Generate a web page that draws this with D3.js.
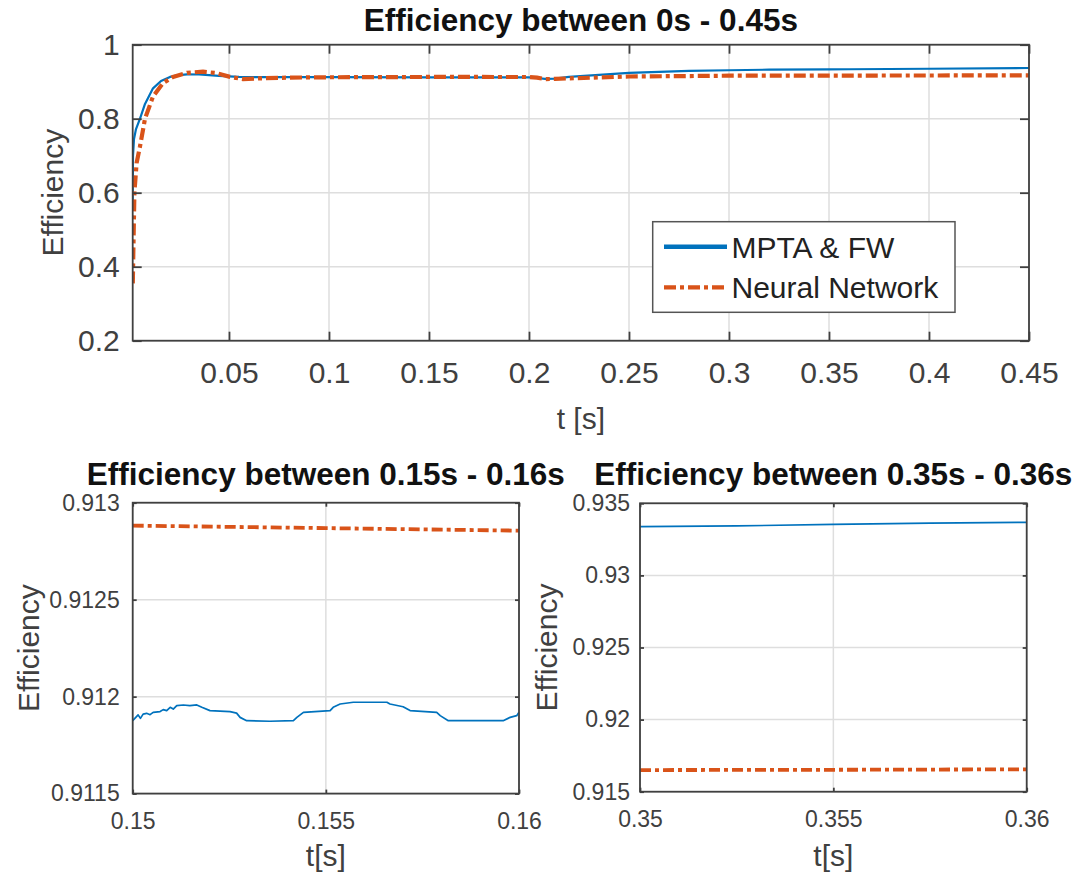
<!DOCTYPE html>
<html><head><meta charset="utf-8">
<script src="https://cdn.jsdelivr.net/npm/d3@7"></script>
<style>
html,body{margin:0;padding:0;background:#fff;}
svg{display:block;}
text{font-family:"Liberation Sans",Arial,Helvetica,sans-serif;}
</style></head>
<body><svg id="c" width="1077" height="875"></svg>
<script>
// ---------------- data ----------------
const seriesNames = ["MPTA & FW", "Neural Network"];

// Top panel (0s - 0.45s)
const topXTicks = [0.05,0.1,0.15,0.2,0.25,0.3,0.35,0.4,0.45];
const topXTickLabels = ["0.05","0.1","0.15","0.2","0.25","0.3","0.35","0.4","0.45"];
const topYTicks = [0.2,0.4,0.6,0.8,1];
const topYTickLabels = ["0.2","0.4","0.6","0.8","1"];
const topMptaT = [0.00185,0.0020,0.0025,0.0035,0.0055,0.008,0.012,0.016,0.0205,0.025,0.029,0.035,0.040,0.045,0.050,0.055,0.060,0.080,0.100,0.150,0.200,0.204,0.208,0.213,0.220,0.250,0.280,0.300,0.320,0.350,0.360,0.400,0.450];
const topMptaV = [0.58,0.70,0.745,0.772,0.80,0.84,0.882,0.902,0.913,0.918,0.920,0.9195,0.918,0.916,0.9145,0.913,0.9125,0.9124,0.9122,0.9119,0.9118,0.910,0.9075,0.9085,0.913,0.924,0.929,0.931,0.9325,0.9333,0.9337,0.935,0.937];
const topNnT = [0.0019,0.0022,0.0027,0.0038,0.0055,0.008,0.012,0.017,0.022,0.029,0.037,0.044,0.0505,0.057,0.065,0.080,0.100,0.150,0.160,0.200,0.204,0.208,0.213,0.220,0.250,0.300,0.350,0.360,0.450];
const topNnV = [0.355,0.45,0.60,0.68,0.725,0.80,0.86,0.896,0.913,0.924,0.927,0.923,0.913,0.907,0.909,0.911,0.912,0.9128,0.91286,0.9127,0.911,0.907,0.9075,0.909,0.914,0.9162,0.9166,0.91663,0.9170];

// Bottom-left panel (0.15s - 0.16s)
const blXTicks = [0.15,0.155,0.16];
const blXTickLabels = ["0.15","0.155","0.16"];
const blYTicks = [0.9115,0.912,0.9125,0.913];
const blYTickLabels = ["0.9115","0.912","0.9125","0.913"];
const blMptaT = [0.15000,0.15008,0.15014,0.15020,0.15027,0.15036,0.15045,0.15053,0.15071,0.15079,0.15088,0.15097,0.15105,0.15114,0.15131,0.15148,0.15166,0.15179,0.15200,0.15252,0.15269,0.15278,0.15295,0.15355,0.15416,0.15425,0.15442,0.15511,0.15519,0.15537,0.15571,0.15658,0.15666,0.15700,0.15718,0.15787,0.15796,0.15817,0.15959,0.15977,0.15994,0.16000];
const blMptaV = [0.911876,0.911893,0.911906,0.911888,0.911910,0.911914,0.911907,0.911919,0.911923,0.911933,0.911928,0.911945,0.911936,0.911954,0.911957,0.911954,0.911957,0.911945,0.911928,0.911923,0.911915,0.911893,0.911876,0.911873,0.911876,0.911893,0.911919,0.911928,0.911945,0.911962,0.911971,0.911971,0.911962,0.911948,0.911928,0.911919,0.911902,0.911876,0.911876,0.911893,0.911902,0.911919];
const blNnT = [0.150,0.155,0.160];
const blNnV = [0.912882,0.912869,0.912856];

// Bottom-right panel (0.35s - 0.36s)
const brXTicks = [0.35,0.355,0.36];
const brXTickLabels = ["0.35","0.355","0.36"];
const brYTicks = [0.915,0.92,0.925,0.93,0.935];
const brYTickLabels = ["0.915","0.92","0.925","0.93","0.935"];
const brMptaT = [0.350,0.3525,0.355,0.3575,0.360];
const brMptaV = [0.93338,0.93343,0.93354,0.93362,0.93368];
const brNnT = [0.350,0.355,0.360];
const brNnV = [0.91650,0.91652,0.91655];

// ---------------- drawing ----------------
const svg = d3.select("#c");
const BLUE = "#0072BD", ORANGE = "#D95319", AX = "#404040", GRID = "#dedede";

function zip(t, v){ return t.map((d,i)=>[d, v[i]]); }

function panel(o){
  const x = d3.scaleLinear().domain(o.xDomain).range([o.left, o.right]);
  const y = d3.scaleLinear().domain(o.yDomain).range([o.bottom, o.top]);
  const g = svg.append("g");
  // grid
  g.append("g").selectAll("line").data(o.xTicks).join("line")
    .attr("x1", d=>x(d)).attr("x2", d=>x(d)).attr("y1", o.top).attr("y2", o.bottom)
    .attr("stroke", GRID).attr("stroke-width", 1.5);
  g.append("g").selectAll("line").data(o.yTicks).join("line")
    .attr("y1", d=>y(d)).attr("y2", d=>y(d)).attr("x1", o.left).attr("x2", o.right)
    .attr("stroke", GRID).attr("stroke-width", 1.5);
  // clip
  const cid = "clip" + Math.round(o.left) + "_" + Math.round(o.top);
  g.append("clipPath").attr("id", cid).append("rect")
    .attr("x", o.left).attr("y", o.top - 3).attr("width", o.right - o.left).attr("height", o.bottom - o.top + 6);
  const line = d3.line().x(d=>x(d[0])).y(d=>y(d[1]));
  const lg = g.append("g").attr("clip-path", `url(#${cid})`);
  lg.append("path").datum(zip(o.blueT, o.blueV)).attr("d", line)
    .attr("fill","none").attr("stroke", BLUE).attr("stroke-width", o.blueW).attr("stroke-linejoin","round");
  lg.append("path").datum(zip(o.orT, o.orV)).attr("d", line)
    .attr("fill","none").attr("stroke", ORANGE).attr("stroke-width", o.orW)
    .attr("stroke-dasharray", o.dash);
  // axes
  const fs = o.tickFont;
  const xa = g.append("g").attr("transform", `translate(0,${o.bottom})`)
    .call(d3.axisBottom(x).tickValues(o.xTicks).tickFormat((d,i)=>o.xLabels[i]).tickSize(-o.tickLen).tickPadding(o.xPad));
  const xt = g.append("g").attr("transform", `translate(0,${o.top})`)
    .call(d3.axisTop(x).tickValues(o.xTicks).tickFormat("").tickSize(-o.tickLen));
  const ya = g.append("g").attr("transform", `translate(${o.left},0)`)
    .call(d3.axisLeft(y).tickValues(o.yTicks).tickFormat((d,i)=>o.yLabels[i]).tickSize(-o.tickLen).tickPadding(o.yPad));
  const yr = g.append("g").attr("transform", `translate(${o.right},0)`)
    .call(d3.axisRight(y).tickValues(o.yTicks).tickFormat("").tickSize(-o.tickLen));
  [xa, xt, ya, yr].forEach(a=>{
    a.select(".domain").remove();
    a.selectAll(".tick line").attr("stroke", AX).attr("stroke-width", 1.8);
    a.selectAll("text").attr("fill", AX).style("font-size", fs + "px")
      .style("font-family", '"Liberation Sans",Arial,sans-serif');
  });
  // box
  g.append("rect").attr("x", o.left).attr("y", o.top).attr("width", o.right - o.left).attr("height", o.bottom - o.top)
    .attr("fill","none").attr("stroke", AX).attr("stroke-width", 1.8);
  // title
  g.append("text").attr("x", (o.left + o.right)/2).attr("y", o.titleY).attr("text-anchor","middle")
    .attr("fill","#111").style("font-size", o.titleFont + "px").style("font-weight","bold").text(o.title);
  // labels
  g.append("text").attr("x", (o.left + o.right)/2).attr("y", o.xLabelY).attr("text-anchor","middle")
    .attr("fill", AX).style("font-size", o.labelFont + "px").text(o.xLabel);
  g.append("text").attr("transform", `translate(${o.yLabelX},${(o.top + o.bottom)/2}) rotate(-90)`)
    .attr("text-anchor","middle").attr("fill", AX).style("font-size", o.labelFont + "px").text(o.yLabel);
  return {x, y, g};
}

panel({
  left:132.7, right:1029, top:44.7, bottom:340.7,
  xDomain:[0.00185,0.45], yDomain:[0.2,1],
  xTicks:topXTicks, xLabels:topXTickLabels, yTicks:topYTicks, yLabels:topYTickLabels,
  tickLen:9, tickFont:30, xPad:21, yPad:13,
  blueT:topMptaT, blueV:topMptaV, blueW:2.2, orT:topNnT, orV:topNnV, orW:4.2, dash:"12,4,4,4",
  title:"Efficiency between 0s - 0.45s", titleY:31, titleFont:31.5,
  xLabel:"t [s]", xLabelY:429, yLabel:"Efficiency", yLabelX:63, labelFont:30
});

panel({
  left:132.7, right:519, top:502.7, bottom:793.6,
  xDomain:[0.15,0.16], yDomain:[0.9115,0.913],
  xTicks:blXTicks, xLabels:blXTickLabels, yTicks:blYTicks, yLabels:blYTickLabels,
  tickLen:4, tickFont:23, xPad:19, yPad:13,
  blueT:blMptaT, blueV:blMptaV, blueW:1.7, orT:blNnT, orV:blNnV, orW:3.8, dash:"11,4,4,4",
  title:"Efficiency between 0.15s - 0.16s", titleY:485, titleFont:31.5,
  xLabel:"t[s]", xLabelY:866, yLabel:"Efficiency", yLabelX:39, labelFont:30
});

panel({
  left:640, right:1026.7, top:503.3, bottom:791.7,
  xDomain:[0.35,0.36], yDomain:[0.915,0.935],
  xTicks:brXTicks, xLabels:brXTickLabels, yTicks:brYTicks, yLabels:brYTickLabels,
  tickLen:4, tickFont:23, xPad:19, yPad:10,
  blueT:brMptaT, blueV:brMptaV, blueW:1.7, orT:brNnT, orV:brNnV, orW:3.8, dash:"11,4,4,4",
  title:"Efficiency between 0.35s - 0.36s", titleY:485, titleFont:31.5,
  xLabel:"t[s]", xLabelY:866, yLabel:"Efficiency", yLabelX:557, labelFont:30
});

// legend (top panel)
const lgd = svg.append("g");
lgd.append("rect").attr("x",652.7).attr("y",221.7).attr("width",302.3).attr("height",90.6)
  .attr("fill","#fff").attr("stroke","#555").attr("stroke-width",1.5);
const legendColors = [BLUE, ORANGE];
const legendDash = [null, "12,4,4,4"];
seriesNames.forEach((name, i)=>{
  const yy = 246.7 + i*40.6;
  lgd.append("line").attr("x1",664).attr("x2",727).attr("y1",yy).attr("y2",yy)
    .attr("stroke", legendColors[i]).attr("stroke-width", i===0?4.5:4.2)
    .attr("stroke-dasharray", legendDash[i]);
  lgd.append("text").attr("x",731.5).attr("y",yy+11).attr("fill","#222")
    .style("font-size","30px").text(name);
});
</script></body></html>
